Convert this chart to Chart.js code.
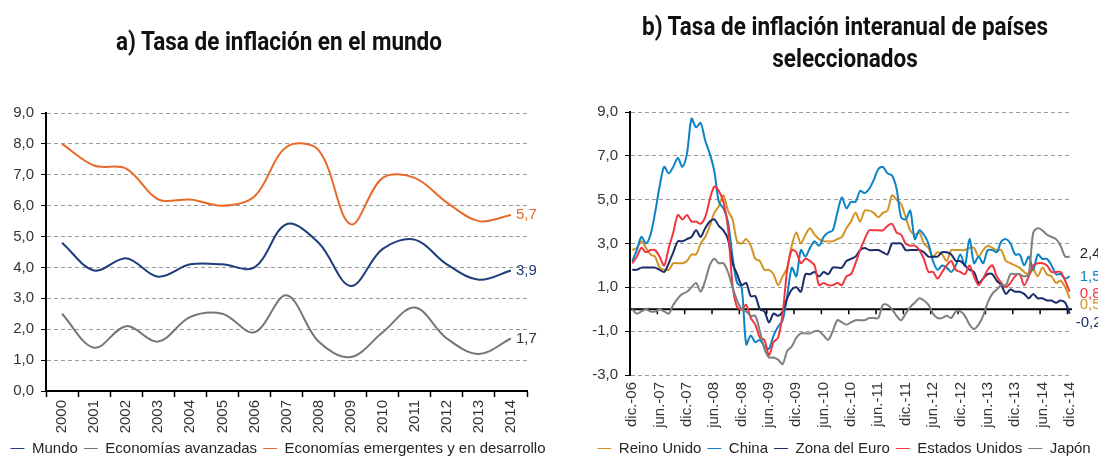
<!DOCTYPE html>
<html>
<head>
<meta charset="utf-8">
<script src="https://cdn.jsdelivr.net/npm/chart.js@4"></script>
<style>
  body { margin: 0; width: 1098px; height: 457px; overflow: hidden; background: #fff; position: relative; }
  .box { position: absolute; top: 0; }
  .title { position: absolute; text-align: center; font-family: Roboto, 'Liberation Sans', sans-serif; font-weight: bold; font-size: 25px; line-height: 32px; color: #111; transform: scaleX(0.9); transform-origin: center; }
</style>
</head>
<body>
<div class="box" style="left:0"><canvas id="mundo" width="556" height="466"></canvas></div>
<div class="box" style="left:575px"><canvas id="paises" width="538" height="466"></canvas></div>
<div class="title" style="left:0; width:558px; top:26px">a) Tasa de inflación en el mundo</div>
<div class="title" style="left:590px; width:510px; top:11px">b) Tasa de inflación interanual de países<br>seleccionados</div>
<script>
// ─── Datos: inflación mundial (% anual) ──────────────────
const years = ['2000', '2001', '2002', '2003', '2004', '2005', '2006', '2007',
               '2008', '2009', '2010', '2011', '2012', '2013', '2014'];
const mundo      = [4.8, 3.9, 4.3, 3.7, 4.1, 4.1, 4.0, 5.4, 4.8, 3.4, 4.6, 4.9, 4.1, 3.6, 3.9];
const avanzadas  = [2.5, 1.4, 2.1, 1.6, 2.4, 2.5, 1.9, 3.1, 1.6, 1.1, 1.9, 2.7, 1.7, 1.2, 1.7];
const emergentes = [8.0, 7.3, 7.2, 6.2, 6.2, 6.0, 6.3, 7.9, 7.8, 5.4, 6.9, 6.9, 6.1, 5.5, 5.7];

// ─── Datos: inflación interanual mensual, dic.-06 a dic.-14 ──
const monthNames = ['ene.', 'feb.', 'mar.', 'abr.', 'may.', 'jun.', 'jul.', 'ago.', 'sep.', 'oct.', 'nov.', 'dic.'];
const months = ['dic.-06'];
['07', '08', '09', '10', '11', '12', '13', '14'].forEach(yy => monthNames.forEach(m => months.push(m + '-' + yy)));

const reinoUnido = [
  2.7, 2.8, 3.1, 2.8, 2.5, 2.4, 1.9, 1.8, 1.8, 2.1, 2.1, 2.1,
  2.2, 2.5, 2.5, 3.0, 3.3, 3.8, 4.4, 4.7, 5.2, 4.5, 4.1, 3.1,
  3.0, 3.2, 2.9, 2.3, 2.2, 1.8, 1.8, 1.6, 1.1, 1.5, 1.9, 2.9,
  3.5, 3.0, 3.4, 3.7, 3.4, 3.2, 3.1, 3.1, 3.1, 3.2, 3.3, 3.7,
  4.0, 4.4, 4.0, 4.5, 4.5, 4.4, 4.2, 4.4, 4.5, 5.2, 5.0, 4.8, 4.2,
  3.6, 3.4, 3.5, 3.0, 2.8, 2.4, 2.6, 2.5, 2.2, 2.7, 2.7, 2.7,
  2.7, 2.8, 2.8, 2.4, 2.7, 2.9, 2.8, 2.7, 2.7, 2.2, 2.1, 2.0,
  1.9, 1.7, 1.6, 1.8, 1.5, 1.9, 1.6, 1.5, 1.2, 1.3, 1.0, 0.5
];
const china = [
  2.2, 2.7, 3.3, 3.0, 3.4, 4.4, 5.6, 6.5, 6.2, 6.5, 6.9, 6.5,
  7.1, 8.7, 8.3, 8.5, 7.7, 7.1, 6.3, 4.9, 4.6, 4.0, 2.4, 1.2,
  1.0, -1.6, -1.2, -1.5, -1.4, -1.7, -1.8, -1.2, -0.8, -0.5, 0.6, 1.9,
  1.5, 2.7, 2.4, 2.8, 3.1, 2.9, 3.3, 3.5, 3.6, 4.4, 5.1, 4.6,
  4.9, 4.9, 5.4, 5.3, 5.5, 5.9, 6.4, 6.5, 6.2, 6.1, 5.5, 4.2, 4.1,
  4.5, 3.2, 3.6, 3.4, 3.0, 2.2, 1.8, 2.0, 1.9, 1.7, 2.0, 2.5,
  2.0, 3.2, 2.1, 2.4, 2.1, 2.7, 2.7, 2.6, 3.1, 3.2, 3.0, 2.5,
  2.5, 2.0, 2.4, 1.8, 2.5, 2.3, 2.3, 2.0, 1.6, 1.6, 1.4, 1.5
];
const zonaEuro = [
  1.8, 1.8, 1.9, 1.9, 1.9, 1.9, 1.8, 1.7, 2.1, 2.6, 3.1, 3.1,
  3.2, 3.3, 3.6, 3.3, 3.7, 4.0, 4.1, 3.8, 3.6, 3.2, 2.1, 1.6,
  1.1, 1.2, 0.6, 0.6, 0.0, -0.1, -0.6, -0.2, -0.3, -0.1, 0.5, 0.9,
  1.0, 0.8, 1.6, 1.6, 1.7, 1.5, 1.7, 1.6, 1.9, 1.9, 1.9, 2.2,
  2.3, 2.4, 2.7, 2.8, 2.7, 2.7, 2.7, 2.6, 2.5, 3.0, 3.0, 3.0, 2.7,
  2.7, 2.7, 2.7, 2.6, 2.4, 2.4, 2.4, 2.6, 2.6, 2.5, 2.2, 2.2,
  2.0, 1.8, 1.7, 1.2, 1.4, 1.6, 1.6, 1.3, 1.1, 0.7, 0.9, 0.8,
  0.8, 0.7, 0.5, 0.7, 0.5, 0.5, 0.4, 0.4, 0.3, 0.4, 0.3, -0.2
];
const estadosUnidos = [
  2.1, 2.4, 2.8, 2.6, 2.7, 2.7, 2.4, 2.0, 2.8, 3.5, 4.3, 4.1,
  4.3, 4.0, 4.0, 3.9, 4.2, 5.0, 5.6, 5.4, 4.9, 3.7, 1.1, 0.1,
  0.0, 0.2, -0.4, -0.7, -1.3, -1.4, -2.1, -1.5, -1.3, -0.2, 1.8, 2.7,
  2.6, 2.1, 2.3, 2.2, 2.0, 1.1, 1.2, 1.1, 1.1, 1.2, 1.1, 1.5,
  1.6, 2.1, 2.7, 3.2, 3.6, 3.6, 3.6, 3.6, 3.8, 3.9, 3.5, 3.4, 3.0,
  2.9, 2.9, 2.7, 2.3, 1.7, 1.7, 1.4, 1.7, 2.0, 2.2, 1.8, 1.7,
  1.6, 2.0, 1.5, 1.1, 1.4, 1.8, 2.0, 1.5, 1.2, 1.0, 1.2, 1.5,
  1.6, 1.1, 1.5, 2.0, 2.1, 2.1, 2.0, 1.7, 1.7, 1.7, 1.3, 0.8
];
const japon = [
  0.0, -0.2, -0.1, 0.0, -0.1, -0.1, 0.0, -0.1, -0.2, 0.2, 0.5, 0.7,
  0.8, 1.0, 1.2, 0.8, 1.3, 2.0, 2.3, 2.1, 2.1, 1.7, 1.0, 0.4,
  0.0, -0.1, -0.3, -0.3, -1.0, -1.8, -2.2, -2.2, -2.3, -2.5, -1.9, -1.7,
  -1.3, -1.1, -1.1, -1.1, -1.0, -1.0, -1.2, -1.4, -1.0, -0.5, -0.6, -0.7,
  -0.6, -0.5, -0.5, -0.5, -0.4, -0.4, -0.4, 0.2, 0.2, 0.0, -0.3, -0.5, -0.2,
  0.1, 0.3, 0.5, 0.4, 0.2, -0.2, -0.4, -0.4, -0.3, -0.4, -0.1, -0.1,
  -0.3, -0.7, -0.9, -0.7, -0.3, 0.3, 0.7, 0.9, 1.1, 1.1, 1.6, 1.6,
  1.6, 1.5, 1.6, 3.5, 3.7, 3.6, 3.4, 3.3, 3.2, 2.9, 2.4, 2.4
];

// ─── Estilo común ──────────────────────────────────────
Chart.defaults.font.family = "'Liberation Sans', Arial, sans-serif";
Chart.defaults.font.size = 15;
Chart.defaults.color = '#333';

const fmt = v => v.toFixed(1).replace('.', ',');

// etiqueta con el último valor a la derecha de cada serie
const endLabels = {
    id: 'endLabels',
    afterDatasetsDraw(chart) {
        const ctx = chart.ctx;
        ctx.save();
        ctx.font = "15px 'Liberation Sans', Arial, sans-serif";
        ctx.textBaseline = 'middle';
        chart.data.datasets.forEach((ds, i) => {
            const pts = chart.getDatasetMeta(i).data;
            const last = pts[pts.length - 1];
            ctx.fillStyle = ds.labelColor || ds.borderColor;
            ctx.fillText(fmt(ds.data[ds.data.length - 1]), last.x + (ds.labelDx || 5), last.y + (ds.labelDy || 0));
        });
        ctx.restore();
    }
};

// eje horizontal en el valor 0 con marcas semestrales
const zeroAxis = {
    id: 'zeroAxis',
    beforeDatasetsDraw(chart) {
        const { ctx, chartArea, scales: { x, y } } = chart;
        const y0 = y.getPixelForValue(0);
        const half = (x.getPixelForValue(1) - x.getPixelForValue(0)) / 2;
        ctx.save();
        ctx.strokeStyle = '#000';
        ctx.lineWidth = 2;
        ctx.beginPath();
        ctx.moveTo(chartArea.left, y0);
        ctx.lineTo(chartArea.right, y0);
        ctx.stroke();
        ctx.lineWidth = 1.5;
        ctx.beginPath();
        months.forEach((m, i) => {
            if (i % 6 === 0) {
                const px = x.getPixelForValue(i) - half;
                ctx.moveTo(px, y0);
                ctx.lineTo(px, y0 + 5);
            }
        });
        ctx.stroke();
        ctx.restore();
    }
};

const legendOpts = {
    position: 'bottom',
    labels: {
        usePointStyle: true,
        pointStyle: 'line',
        pointStyleWidth: 14,
        padding: 6,
        color: '#262626',
        font: { size: 15 },
        sort: (a, b) => a.datasetIndex - b.datasetIndex
    }
};

const yGrid = {
    color: '#9a9a9a',
    tickColor: '#000',
    tickLength: 5,
    tickBorderDash: []
};

// eje vacío a la derecha: reserva sitio para las etiquetas finales
const spacer = w => ({
    type: 'linear',
    position: 'right',
    ticks: { display: false },
    grid: { display: false, drawTicks: false },
    border: { display: false },
    afterFit: s => { s.width = w; }
});

// ─── a) Tasa de inflación en el mundo ───────────────────
new Chart(document.getElementById('mundo'), {
    type: 'line',
    data: {
        labels: years,
        datasets: [
            { label: 'Mundo', data: mundo, borderColor: '#1f3c7b', yAxisID: 'y', order: 3 },
            { label: 'Economías avanzadas', data: avanzadas, borderColor: '#767676', labelColor: '#333', yAxisID: 'y', order: 2 },
            { label: 'Economías emergentes y en desarrollo', data: emergentes, borderColor: '#e86a2a', yAxisID: 'y', order: 1 }
        ]
    },
    options: {
        responsive: false,
        animation: false,
        layout: { padding: { top: 113, right: 0, left: 0, bottom: 0 } },
        elements: {
            line: { borderWidth: 2, tension: 0.35 },
            point: { radius: 0 }
        },
        plugins: { legend: legendOpts, tooltip: { enabled: false } },
        scales: {
            y: {
                min: 0,
                max: 9,
                ticks: { stepSize: 1, padding: 7, color: '#333', callback: v => fmt(v) },
                grid: yGrid,
                border: { color: '#000', width: 2, dash: [4, 3] },
                afterFit: s => { s.width = 46; }
            },
            yR: spacer(29),
            x: {
                offset: true,
                ticks: { minRotation: 90, maxRotation: 90, padding: 3, color: '#333', autoSkip: false },
                grid: { offset: true, drawOnChartArea: false, tickLength: 6, tickColor: '#000', tickWidth: 1.5 },
                border: { color: '#000', width: 2 },
                afterFit: s => { s.height = 44; }
            }
        }
    },
    plugins: [endLabels]
});

// ─── b) Inflación interanual de países seleccionados ────
new Chart(document.getElementById('paises'), {
    type: 'line',
    data: {
        labels: months,
        datasets: [
            { label: 'Reino Unido', data: reinoUnido, borderColor: '#d39325', labelDx: 10, labelDy: 7, yAxisID: 'y', order: 5 },
            { label: 'China', data: china, borderColor: '#0a84c6', labelDx: 10, yAxisID: 'y', order: 4 },
            { label: 'Zona del Euro', data: zonaEuro, borderColor: '#1b2c6b', labelDx: 6, labelDy: 9, yAxisID: 'y', order: 3 },
            { label: 'Estados Unidos', data: estadosUnidos, borderColor: '#f0363e', labelDx: 10, labelDy: 2, yAxisID: 'y', order: 2 },
            { label: 'Japón', data: japon, borderColor: '#7f7f7f', labelColor: '#222', labelDx: 10, labelDy: -3, yAxisID: 'y', order: 1 }
        ]
    },
    options: {
        responsive: false,
        animation: false,
        layout: { padding: { top: 112, right: 0, left: 0, bottom: 0 } },
        elements: {
            line: { borderWidth: 2, tension: 0.3 },
            point: { radius: 0 }
        },
        plugins: { legend: legendOpts, tooltip: { enabled: false } },
        scales: {
            y: {
                min: -3,
                max: 9,
                ticks: { stepSize: 2, padding: 7, color: '#333', callback: v => fmt(v) },
                grid: yGrid,
                border: { color: '#000', width: 2, dash: [4, 3] },
                afterFit: s => { s.width = 55; }
            },
            yR: spacer(41),
            x: {
                offset: true,
                ticks: {
                    minRotation: 90, maxRotation: 90, padding: 7, color: '#333', autoSkip: false,
                    callback: (v, i) => (i % 6 === 0 ? months[i] : '')
                },
                grid: { display: false, drawTicks: false },
                border: { display: false },
                afterFit: s => { s.height = 60; }
            }
        }
    },
    plugins: [zeroAxis, endLabels]
});
</script>
</body>
</html>
